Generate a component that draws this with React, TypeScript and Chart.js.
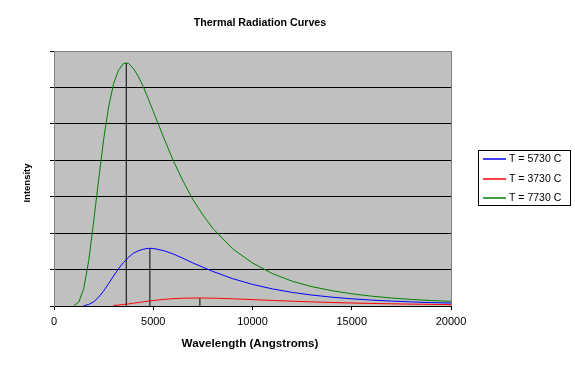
import React, { useEffect, useRef } from 'react';
import { Chart, registerables } from 'chart.js';

Chart.register(...registerables);

const chartTitle = 'Thermal Radiation Curves';
const xAxisTitle = 'Wavelength (Angstroms)';
const yAxisTitle = 'Intensity';

const seriesLabels = ['T = 5730 C', 'T = 3730 C', 'T = 7730 C'];
const seriesColors = ['#0000FF', '#FF0000', '#008000'];

const xTickValues = [0, 5000, 10000, 15000, 20000];

const wavelengths = [
  1000, 1250, 1500, 1750, 2000, 2250, 2500, 2750, 3000, 3250, 3500, 3750, 4000, 4250, 4500, 4750, 5000,
  5500, 6000, 6500, 7000, 7500, 8000,
  9000, 10000, 11000, 12000, 13000, 14000, 15000, 16000, 17000, 18000, 19000, 20000,
];

const intensity5730 = [
  null, null, 0.009, 0.041, 0.116, 0.242, 0.414, 0.616, 0.823, 1.022, 1.195, 1.334, 1.449, 1.515, 1.558, 1.583, 1.58,
  1.523, 1.43, 1.31, 1.18, 1.065, 0.95,
  0.75, 0.593, 0.47, 0.373, 0.3, 0.242, 0.197, 0.162, 0.135, 0.112, 0.094, 0.08,
];

const intensity3730 = [
  null, null, null, null, null, null, null, null, 0.016, 0.027, 0.041, 0.057, 0.076, 0.095, 0.114, 0.133, 0.15,
  0.18, 0.201, 0.213, 0.219, 0.219, 0.215,
  0.198, 0.176, 0.153, 0.132, 0.113, 0.096, 0.082, 0.07, 0.06, 0.052, 0.045, 0.039,
];

const intensity7730 = [
  0.01, 0.109, 0.48, 1.25, 2.32, 3.47, 4.57, 5.46, 6.1, 6.47, 6.66, 6.66, 6.52, 6.3, 6.02, 5.69, 5.34,
  4.66, 4.0, 3.43, 2.92, 2.5, 2.13,
  1.57, 1.18, 0.89, 0.68, 0.53, 0.42, 0.335, 0.27, 0.22, 0.18, 0.15, 0.127,
];

// peak markers (vertical lines), same order as series
const peakWavelengths = [4830, 7350, 3640];
const peakIntensities = [1.58, 0.22, 6.68];

const seriesValues = [intensity5730, intensity3730, intensity7730];

const FONT = '"Liberation Sans", Arial, Helvetica, sans-serif';

const decorPlugin = {
  id: 'decor',
  beforeDraw(chart: any) {
    const { ctx, chartArea: a } = chart;
    ctx.save();
    ctx.fillStyle = '#C0C0C0';
    ctx.fillRect(a.left, a.top, a.right - a.left, a.bottom - a.top);
    ctx.restore();
  },
  afterDraw(chart: any) {
    const { ctx, chartArea: a } = chart;
    ctx.save();
    // right border of plot area
    ctx.strokeStyle = '#808080';
    ctx.lineWidth = 1;
    const rx = Math.round(a.right) + 0.5;
    ctx.beginPath();
    ctx.moveTo(rx, a.top);
    ctx.lineTo(rx, a.bottom);
    ctx.stroke();

    // titles
    ctx.fillStyle = '#000';
    ctx.textAlign = 'center';
    ctx.textBaseline = 'middle';
    ctx.font = `bold 10.7px ${FONT}`;
    ctx.fillText(chartTitle, 260, 23);
    ctx.font = `bold 11.6px ${FONT}`;
    ctx.fillText(xAxisTitle, 250, 343.5);
    ctx.save();
    ctx.translate(27, 183);
    ctx.rotate(-Math.PI / 2);
    ctx.font = `bold 9.5px ${FONT}`;
    ctx.fillText(yAxisTitle, 0, 0);
    ctx.restore();

    // legend
    const lx = 478.5, ly = 150.5, lw = 92, lh = 55;
    ctx.strokeStyle = '#000';
    ctx.lineWidth = 1;
    ctx.strokeRect(lx, ly, lw, lh);
    ctx.textAlign = 'left';
    ctx.font = `10.5px ${FONT}`;
    chart.data.datasets.forEach((ds: any, i: number) => {
      if (!ds.label) return;
      const y = Math.round(ly + 8.5 + i * 19.7);
      ctx.strokeStyle = ds.borderColor;
      ctx.lineWidth = 1.5;
      ctx.beginPath();
      ctx.moveTo(483, y);
      ctx.lineTo(506, y);
      ctx.stroke();
      ctx.fillStyle = '#000';
      ctx.fillText(ds.label, 509, y);
    });
    ctx.restore();
  },
};

export default function App() {
  const canvasRef = useRef<HTMLCanvasElement | null>(null);

  useEffect(() => {
    document.body.style.margin = '0';
    const canvas = canvasRef.current;
    if (!canvas) return;

    const curveSets = seriesLabels.map((label, i) => ({
      label,
      data: wavelengths.map((w, j) => ({ x: w, y: seriesValues[i][j] })),
      borderColor: seriesColors[i],
      backgroundColor: seriesColors[i],
      borderWidth: 1,
      pointRadius: 0,
      showLine: true,
      spanGaps: false,
      tension: 0,
    }));

    const peakSets = peakWavelengths.map((w, i) => ({
      label: '',
      data: [
        { x: w, y: 0 },
        { x: w, y: peakIntensities[i] },
      ],
      borderColor: '#000000',
      backgroundColor: '#000000',
      borderWidth: 1,
      pointRadius: 0,
      showLine: true,
    }));

    const chart = new Chart(canvas, {
      type: 'scatter',
      data: { datasets: [...curveSets, ...peakSets] as any },
      options: {
        responsive: false,
        animation: false,
        devicePixelRatio: 1,
        layout: { padding: { top: 51, right: 124, left: 0, bottom: 0 } },
        plugins: {
          legend: { display: false },
          title: { display: false },
          tooltip: { enabled: false },
        },
        scales: {
          x: {
            type: 'linear',
            min: 0,
            max: 20000,
            afterBuildTicks: (scale: any) => {
              scale.ticks = xTickValues.map((v) => ({ value: v }));
            },
            afterFit: (scale: any) => {
              scale.height = 63;
            },
            ticks: {
              color: '#000',
              font: { family: FONT, size: 11 },
              padding: 5,
              maxRotation: 0,
              autoSkip: false,
              callback: (v: any) => String(v),
            },
            grid: {
              drawOnChartArea: false,
              drawTicks: true,
              tickLength: 4,
              tickColor: '#000',
            },
            border: { color: '#000', width: 1 },
          },
          y: {
            type: 'linear',
            min: 0,
            max: 7,
            afterFit: (scale: any) => {
              scale.width = 54;
            },
            ticks: { display: false, stepSize: 1 },
            grid: {
              color: (c: any) => (c.tick && c.tick.value === 7 ? '#808080' : '#000000'),
              drawTicks: true,
              tickLength: 4,
              tickColor: '#000',
              lineWidth: 1,
            },
            border: { color: '#808080', width: 1 },
          },
        },
      },
      plugins: [decorPlugin],
    });

    return () => chart.destroy();
  }, []);

  return <canvas ref={canvasRef} width={575} height={369} style={{ display: 'block' }} />;
}
